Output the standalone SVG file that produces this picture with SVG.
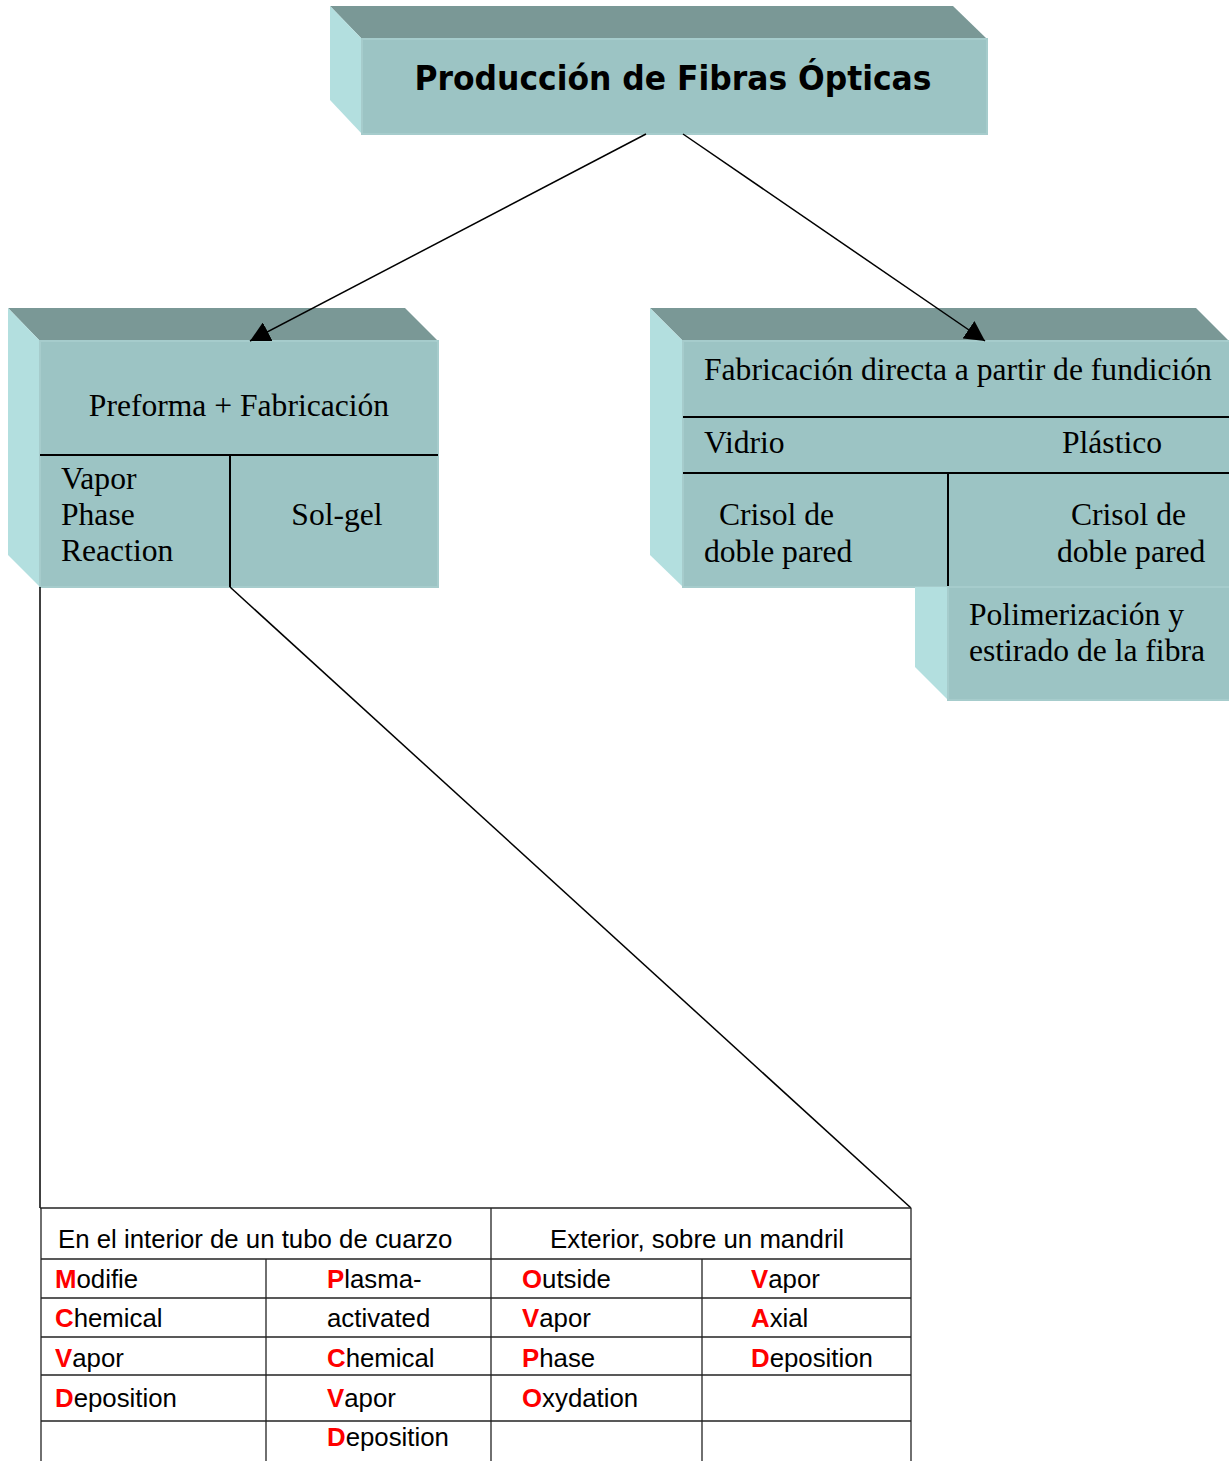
<svg xmlns="http://www.w3.org/2000/svg" width="1229" height="1461" viewBox="0 0 1229 1461">
  <defs>
    <marker id="arrow" viewBox="0 0 20 21" markerWidth="20" markerHeight="21" refX="20" refY="10.5" orient="auto" markerUnits="userSpaceOnUse">
      <path d="M0,0 L20,10.5 L0,21 z" fill="#000"/>
    </marker>
    <style>
      .top { fill: #7a9896; }
      .side { fill: #b3dfdf; }
      .front { fill: #9cc4c4; stroke: #a6cccc; stroke-width: 2; }
      .rule { stroke: #000; stroke-width: 2; fill: none; }
      .serif { font-family: "Liberation Serif", "Times New Roman", serif; font-size: 31.6px; fill: #000; }
      .title { font-family: "DejaVu Sans", sans-serif; font-weight: bold; font-size: 33px; fill: #000; }
      .cell { font-family: "Liberation Sans", Arial, sans-serif; font-size: 25.8px; fill: #000; }
      .key { fill: #ff0000; font-weight: bold; }
      .grid { stroke: #222; stroke-width: 1.3; fill: none; }
      .conn { stroke: #000; stroke-width: 1.5; fill: none; }
    </style>
  </defs>

  <rect width="1229" height="1461" fill="#fff"/>

  <!-- Title block -->
  <g id="title">
    <polygon class="top" points="330,6 953,6 987,39 362,39"/>
    <polygon class="side" points="330,6 362,39 362,134 330,100"/>
    <rect class="front" x="362" y="39" width="625" height="95"/>
    <text class="title" x="673" y="90" text-anchor="middle" textLength="517" lengthAdjust="spacingAndGlyphs">Producción de Fibras Ópticas</text>
  </g>

  <!-- Preform route -->
  <g id="preforma">
    <polygon class="top" points="8,308 405,308 438,341 40,341"/>
    <polygon class="side" points="8,308 40,341 40,587 8,555"/>
    <rect class="front" x="40" y="341" width="398" height="246"/>
    <line class="rule" x1="40" y1="455" x2="438" y2="455"/>
    <line class="rule" x1="230" y1="455" x2="230" y2="587"/>
    <text class="serif" x="239" y="416" text-anchor="middle">Preforma + Fabricación</text>
    <text class="serif" x="61" y="489">Vapor</text>
    <text class="serif" x="61" y="525">Phase</text>
    <text class="serif" x="61" y="561">Reaction</text>
    <text class="serif" x="337" y="525" text-anchor="middle">Sol-gel</text>
  </g>

  <!-- Direct melt route -->
  <g id="fundicion">
    <polygon class="top" points="650,308 1196,308 1229,341 683,341"/>
    <polygon class="side" points="650,308 683,341 683,587 650,555"/>
    <rect class="front" x="683" y="341" width="550" height="246"/>
    <line class="rule" x1="683" y1="417" x2="1229" y2="417"/>
    <line class="rule" x1="683" y1="473" x2="1229" y2="473"/>
    <line class="rule" x1="948" y1="473" x2="948" y2="587"/>
    <text class="serif" x="704" y="380">Fabricación directa a partir de fundición</text>
    <text class="serif" x="704" y="453">Vidrio</text>
    <text class="serif" x="1062" y="453">Plástico</text>
    <text class="serif" x="719" y="525">Crisol de</text>
    <text class="serif" x="704" y="562">doble pared</text>
    <text class="serif" x="1071" y="525">Crisol de</text>
    <text class="serif" x="1057" y="562">doble pared</text>
  </g>

  <!-- Polymerisation step -->
  <g id="polimerizacion">
    <polygon class="side" points="915,587 948,587 948,700 915,667"/>
    <rect class="front" x="948" y="587" width="285" height="113"/>
    <text class="serif" x="969" y="625">Polimerización y</text>
    <text class="serif" x="969" y="661">estirado de la fibra</text>
  </g>

  <!-- Connectors -->
  <g id="connectors">
    <line class="conn" x1="646" y1="134" x2="250" y2="341" marker-end="url(#arrow)"/>
    <line class="conn" x1="683" y1="134" x2="985" y2="341" marker-end="url(#arrow)"/>
    <line class="conn" x1="40" y1="587" x2="40" y2="1208"/>
    <line class="conn" x1="230" y1="587" x2="911" y2="1208"/>
  </g>

  <!-- VPR techniques table -->
  <g id="tabla">
    <line class="grid" x1="40" y1="1208" x2="911" y2="1208"/>
    <line class="grid" x1="41" y1="1259" x2="911" y2="1259"/>
    <line class="grid" x1="41" y1="1298" x2="911" y2="1298"/>
    <line class="grid" x1="41" y1="1337" x2="911" y2="1337"/>
    <line class="grid" x1="41" y1="1375" x2="911" y2="1375"/>
    <line class="grid" x1="41" y1="1421" x2="911" y2="1421"/>
    <line class="grid" x1="41" y1="1208" x2="41" y2="1461"/>
    <line class="grid" x1="491" y1="1208" x2="491" y2="1461"/>
    <line class="grid" x1="911" y1="1208" x2="911" y2="1461"/>
    <line class="grid" x1="266" y1="1259" x2="266" y2="1461"/>
    <line class="grid" x1="702" y1="1259" x2="702" y2="1461"/>

    <text class="cell" x="58" y="1248">En el interior de un tubo de cuarzo</text>
    <text class="cell" x="697" y="1248" text-anchor="middle">Exterior, sobre un mandril</text>

    <text class="cell" x="55" y="1288"><tspan class="key">M</tspan>odifie</text>
    <text class="cell" x="55" y="1327"><tspan class="key">C</tspan>hemical</text>
    <text class="cell" x="55" y="1367"><tspan class="key">V</tspan>apor</text>
    <text class="cell" x="55" y="1407"><tspan class="key">D</tspan>eposition</text>

    <text class="cell" x="327" y="1288"><tspan class="key">P</tspan>lasma-</text>
    <text class="cell" x="327" y="1327">activated</text>
    <text class="cell" x="327" y="1367"><tspan class="key">C</tspan>hemical</text>
    <text class="cell" x="327" y="1407"><tspan class="key">V</tspan>apor</text>
    <text class="cell" x="327" y="1446"><tspan class="key">D</tspan>eposition</text>

    <text class="cell" x="522" y="1288"><tspan class="key">O</tspan>utside</text>
    <text class="cell" x="522" y="1327"><tspan class="key">V</tspan>apor</text>
    <text class="cell" x="522" y="1367"><tspan class="key">P</tspan>hase</text>
    <text class="cell" x="522" y="1407"><tspan class="key">O</tspan>xydation</text>

    <text class="cell" x="751" y="1288"><tspan class="key">V</tspan>apor</text>
    <text class="cell" x="751" y="1327"><tspan class="key">A</tspan>xial</text>
    <text class="cell" x="751" y="1367"><tspan class="key">D</tspan>eposition</text>
  </g>
</svg>
